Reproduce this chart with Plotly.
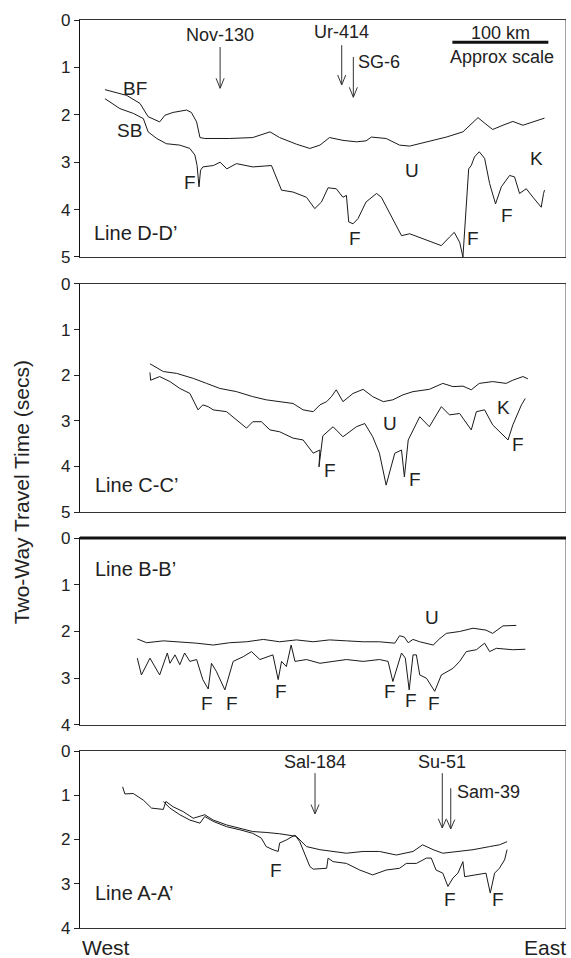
import plotly.graph_objects as go

# ---------------- data (x = distance along line, km; y = two-way time, s) ----------------
d_bf_x = [26, 34.7, 48.6, 62.5, 71, 83, 88.5, 97, 111, 116, 121.5, 125, 130, 156, 180, 198, 208, 225.5,
          239.5, 250, 260, 274, 288, 298, 303.6, 319, 333, 343.5, 361, 381.7, 399, 409.5, 414.7, 420,
          430, 440.7, 451, 461.5, 472, 484]
d_bf_y = [1.47, 1.52, 1.59, 1.76, 2.04, 2.15, 2.01, 1.95, 1.90, 1.95, 2.15, 2.48, 2.50, 2.50, 2.48, 2.36,
          2.48, 2.62, 2.71, 2.64, 2.48, 2.54, 2.57, 2.55, 2.47, 2.50, 2.64, 2.66, 2.57, 2.47, 2.36, 2.15,
          2.06, 2.15, 2.31, 2.22, 2.14, 2.22, 2.15, 2.07]
d_sb_x = [26, 41.6, 55.5, 66, 71, 80, 90, 104, 114.5, 119.7, 122, 124, 125.6, 128, 139, 146, 153, 163,
          180, 199.5, 210, 222, 236, 244.6, 251.6, 258.5, 267, 274, 277.6, 280, 284.5, 289.7, 298, 309,
          314, 324.5, 335, 343.5, 361, 376.5, 385, 390, 395.6, 399, 405, 407.7, 411, 416, 421.6, 426.8,
          433, 439, 447.6, 452.8, 458, 465, 472, 480.6, 483, 484]
d_sb_y = [1.66, 1.87, 1.97, 2.08, 2.36, 2.50, 2.61, 2.64, 2.71, 2.85, 3.07, 3.52, 3.17, 3.10, 3.07, 3.00,
          3.14, 3.03, 3.10, 3.07, 3.59, 3.63, 3.74, 3.98, 3.84, 3.54, 3.56, 3.74, 3.70, 4.26, 4.30, 4.19,
          3.84, 3.66, 3.74, 4.16, 4.55, 4.51, 4.65, 4.76, 4.58, 4.48, 4.69, 5.00, 3.14, 3.07, 2.89, 2.78,
          2.92, 3.45, 3.88, 3.52, 3.28, 3.31, 3.66, 3.56, 3.74, 3.95, 3.66, 3.59]

c_top_x = [72.9, 86.8, 100.6, 118, 131.9, 145.7, 163, 180, 194, 208, 222, 232.5, 243, 250, 257, 262, 267,
           274, 284.5, 295, 305, 316, 326, 336.6, 347, 364, 378, 388.6, 399, 407.7, 416, 430, 444, 451,
           461.5, 466.7]
c_top_y = [1.75, 1.92, 1.96, 2.07, 2.18, 2.29, 2.36, 2.47, 2.54, 2.58, 2.62, 2.76, 2.80, 2.65, 2.58, 2.47,
           2.32, 2.58, 2.40, 2.31, 2.47, 2.58, 2.54, 2.43, 2.36, 2.31, 2.18, 2.25, 2.24, 2.32, 2.18, 2.14,
           2.18, 2.11, 2.03, 2.08]
c_bot_x = [72.9, 73.6, 83, 93.7, 104, 114.5, 123, 128, 133.6, 138.8, 152.7, 163, 173.5, 180, 189, 198, 208,
           222, 232.5, 243, 250, 249, 253, 263.7, 274, 288, 296.7, 305, 312, 319, 328, 335, 338, 342, 354,
           364, 376.5, 385, 395.6, 407.7, 413, 421.6, 430, 446, 451, 460, 464]
c_bot_y = [1.94, 2.11, 2.03, 2.14, 2.29, 2.40, 2.76, 2.65, 2.69, 2.76, 2.80, 2.98, 3.16, 3.02, 3.02, 3.20,
           3.24, 3.38, 3.42, 3.71, 3.64, 4.01, 3.33, 3.13, 3.35, 3.13, 3.06, 3.35, 3.71, 4.41, 3.71, 3.64,
           4.23, 3.42, 2.91, 3.13, 2.69, 2.87, 2.84, 3.20, 2.80, 2.76, 3.09, 3.42, 3.09, 2.65, 2.51]

b_top_x = [59.7, 69.4, 86.8, 104, 121.5, 138.8, 156, 173.5, 191, 208, 225.5, 243, 260, 277.6, 295, 312,
           328, 333, 338, 342, 347, 354, 368, 375, 381.7, 395.6, 409.5, 423, 430, 440.7, 454.6]
b_top_y = [2.16, 2.24, 2.20, 2.22, 2.25, 2.29, 2.24, 2.22, 2.17, 2.22, 2.18, 2.22, 2.18, 2.20, 2.22, 2.22,
           2.25, 2.09, 2.12, 2.24, 2.17, 2.22, 2.29, 2.15, 2.04, 2.00, 1.93, 1.97, 2.04, 1.88, 1.87]
b_bot_x = [59.7, 64, 72.9, 83, 91, 93.7, 99, 104, 109, 114.5, 121.5, 128, 133.6, 137, 142, 151, 159.6, 170,
           178.7, 187.4, 201, 206.5, 210, 215, 220, 224, 236, 250, 263.7, 277.6, 295, 312, 321, 326, 335,
           339, 343, 347, 350.5, 354, 361, 369.6, 376.5, 388.6, 395.6, 402.5, 413, 421.6, 426.8, 433.8,
           451, 464]
b_bot_y = [2.57, 2.93, 2.57, 2.93, 2.46, 2.68, 2.50, 2.71, 2.46, 2.64, 2.60, 3.03, 3.23, 2.68, 2.85, 3.25,
           2.64, 2.54, 2.43, 2.60, 2.50, 3.03, 2.64, 2.75, 2.29, 2.64, 2.60, 2.68, 2.64, 2.60, 2.64, 2.60,
           2.64, 3.07, 2.46, 2.57, 3.25, 2.50, 2.50, 2.93, 3.00, 3.28, 2.93, 2.79, 2.64, 2.43, 2.39, 2.25,
           2.43, 2.36, 2.39, 2.38]

a_top_x = [44.4, 46.8, 55.5, 66, 74.6, 86.8, 89.5, 97, 107.6, 118, 130, 138.8, 152.7, 166.6, 180, 194, 208,
           225.5, 236, 250, 263.7, 277.6, 295, 312, 329.6, 347, 357, 368, 378, 392, 409.5, 426.8, 437, 445]
a_top_y = [0.81, 0.97, 0.96, 1.11, 1.29, 1.32, 1.14, 1.26, 1.37, 1.52, 1.44, 1.56, 1.67, 1.75, 1.82, 1.84,
           1.87, 1.93, 2.16, 2.23, 2.27, 2.31, 2.27, 2.27, 2.35, 2.27, 2.12, 2.23, 2.31, 2.27, 2.23, 2.16,
           2.12, 2.05]
a_bot_x = [86.8, 93.7, 104, 114.5, 125, 130, 138.8, 152.7, 166.6, 180, 189, 194, 201, 206.5, 208, 215, 224,
           229, 239.5, 243, 257, 258.5, 263.7, 277.6, 291.5, 305, 319, 333, 340, 350.5, 361, 366, 371, 378,
           383.4, 388.6, 393.8, 399, 400.8, 413, 423, 427.5, 432, 437, 442.4, 445]
a_bot_y = [1.14, 1.29, 1.44, 1.56, 1.63, 1.48, 1.59, 1.71, 1.78, 1.86, 1.97, 2.16, 2.23, 2.27, 2.08, 2.01,
           1.90, 2.05, 2.61, 2.67, 2.65, 2.42, 2.50, 2.54, 2.69, 2.80, 2.69, 2.65, 2.54, 2.54, 2.42, 2.42,
           2.69, 2.76, 3.06, 2.87, 2.76, 2.50, 2.84, 2.80, 2.76, 3.21, 2.76, 2.65, 2.46, 2.23]

# panel setup
panel_names = ["Line D-D\u2019", "Line C-C\u2019", "Line B-B\u2019", "Line A-A\u2019"]
panel_ymax = [5, 5, 4, 4]
panel_domains = [(0.739, 1.0), (0.4581, 0.7093), (0.2236, 0.4295), (0.0, 0.1949)]
panel_name_pos = [(12.5, 4.50), (13.5, 4.41), (13.5, 0.66), (13.5, 3.21)]
panel_curves = [[(d_bf_x, d_bf_y), (d_sb_x, d_sb_y)],
                [(c_top_x, c_top_y), (c_bot_x, c_bot_y)],
                [(b_top_x, b_top_y), (b_bot_x, b_bot_y)],
                [(a_top_x, a_top_y), (a_bot_x, a_bot_y)]]

# feature labels: (panel, x, y, text)
feature_labels = [
    (0, 57.3, 1.44, "BF"), (0, 52, 2.33, "SB"), (0, 114.6, 3.42, "F"), (0, 346, 3.17, "U"),
    (0, 476, 2.92, "K"), (0, 286.5, 4.61, "F"), (0, 409.5, 4.61, "F"), (0, 445, 4.12, "F"),
    (1, 323, 3.05, "U"), (1, 440.8, 2.70, "K"), (1, 260.5, 4.08, "F"), (1, 349, 4.28, "F"),
    (1, 456.4, 3.53, "F"),
    (2, 366.8, 1.69, "U"), (2, 132.3, 3.53, "F"), (2, 158.4, 3.53, "F"), (2, 209.4, 3.29, "F"),
    (2, 323, 3.29, "F"), (2, 345, 3.48, "F"), (2, 368.9, 3.53, "F"),
    (3, 204, 2.69, "F"), (3, 385.5, 3.36, "F"), (3, 435.5, 3.36, "F"),
]

# wells: (panel, name, x, arrow top, arrow tip, label x, label y, anchor)
wells = [
    (0, "Nov-130", 146.0, 0.57, 1.44, 146.0, 0.32, "center"),
    (0, "Ur-414", 272.7, 0.53, 1.37, 272.7, 0.25, "center"),
    (0, "SG-6", 284.8, 0.78, 1.63, 287.5, 0.89, "left"),
    (3, "Sal-184", 244.9, 0.50, 1.42, 244.9, 0.25, "center"),
    (3, "Su-51", 377.5, 0.50, 1.74, 377.5, 0.25, "center"),
    (3, "Sam-39", 386.3, 0.84, 1.76, 390.5, 0.92, "left"),
]

scale_x0, scale_x1, scale_y = 388, 488, 0.47
X_MAX = 506.4
FONT = "Arial, Liberation Sans, Helvetica, sans-serif"
LINE_COL = "#1a1a1a"

fig = go.Figure()
layout = dict(
    width=571, height=958, autosize=False,
    margin=dict(l=80, r=5, t=20, b=30),
    paper_bgcolor="white", plot_bgcolor="white",
    showlegend=False,
    font=dict(family=FONT, size=17, color="#222"),
)
shapes = []
annotations = []

for i in range(4):
    suffix = "" if i == 0 else str(i + 1)
    xa, ya = "x" + suffix, "y" + suffix
    for cx, cy in panel_curves[i]:
        fig.add_trace(go.Scatter(x=cx, y=cy, mode="lines", xaxis=xa, yaxis=ya,
                                 line=dict(color=LINE_COL, width=1), hoverinfo="skip"))
    layout["xaxis" + suffix] = dict(domain=[0, 1], range=[0, X_MAX], anchor=ya,
                                    showgrid=False, zeroline=False, showticklabels=False,
                                    ticks="", showline=True, linecolor="#333", linewidth=1,
                                    mirror=True)
    layout["yaxis" + suffix] = dict(domain=list(panel_domains[i]), range=[panel_ymax[i], 0],
                                    anchor=xa, tickmode="array",
                                    tickvals=list(range(panel_ymax[i] + 1)),
                                    ticks="outside", ticklen=5, tickwidth=1, tickcolor="#222",
                                    showgrid=False, zeroline=False, showline=True,
                                    linecolor="#111", linewidth=1.3, mirror=False,
                                    tickfont=dict(size=17, color="#222"))
    # right border
    shapes.append(dict(type="line", xref=xa, yref=ya + " domain", x0=X_MAX, x1=X_MAX, y0=0, y1=1,
                       line=dict(color="#444", width=1)))
    nx, ny = panel_name_pos[i]
    annotations.append(dict(x=nx, y=ny, xref=xa, yref=ya, text=panel_names[i], showarrow=False,
                            xanchor="left", yanchor="middle", font=dict(size=20, color="#222")))

# thick top border of panel B-B'
shapes.append(dict(type="line", xref="x3 domain", yref="y3 domain", x0=0, x1=1, y0=1, y1=1,
                   line=dict(color="#111", width=3)))

for p, fx, fy, t in feature_labels:
    suffix = "" if p == 0 else str(p + 1)
    annotations.append(dict(x=fx, y=fy, xref="x" + suffix, yref="y" + suffix, text=t,
                            showarrow=False, xanchor="center", yanchor="middle",
                            font=dict(size=19, color="#222")))

# wells with open arrowheads
head_dx, head_dy = 4.2, 0.21
for p, name, wx, y0, y1, lx, ly, anchor in wells:
    suffix = "" if p == 0 else str(p + 1)
    xa, ya = "x" + suffix, "y" + suffix
    lc = dict(color="#333", width=1)
    shapes.append(dict(type="line", xref=xa, yref=ya, x0=wx, x1=wx, y0=y0, y1=y1, line=lc))
    shapes.append(dict(type="line", xref=xa, yref=ya, x0=wx - head_dx, x1=wx, y0=y1 - head_dy, y1=y1, line=lc))
    shapes.append(dict(type="line", xref=xa, yref=ya, x0=wx + head_dx, x1=wx, y0=y1 - head_dy, y1=y1, line=lc))
    annotations.append(dict(x=lx, y=ly, xref=xa, yref=ya, text=name, showarrow=False,
                            xanchor=anchor, yanchor="middle", font=dict(size=18, color="#222")))

# scale bar
shapes.append(dict(type="line", xref="x", yref="y", x0=scale_x0, x1=scale_x1, y0=scale_y, y1=scale_y,
                   line=dict(color="#111", width=3)))
annotations.append(dict(x=(scale_x0 + scale_x1) / 2, y=0.27, xref="x", yref="y", text="100 km",
                        showarrow=False, font=dict(size=18, color="#222")))
annotations.append(dict(x=(scale_x0 + scale_x1) / 2 + 1.5, y=0.78, xref="x", yref="y",
                        text="Approx scale", showarrow=False, font=dict(size=18, color="#222")))

# axis titles
annotations.append(dict(x=-0.1214, y=0.48, xref="paper", yref="paper", text="Two-Way Travel Time (secs)",
                        textangle=-90, showarrow=False, xanchor="center", yanchor="middle",
                        font=dict(size=21, color="#222")))
annotations.append(dict(x=0, y=-0.022, xref="paper", yref="paper", text="West", showarrow=False,
                        xanchor="left", yanchor="middle", font=dict(size=21, color="#222")))
annotations.append(dict(x=1.004, y=-0.022, xref="paper", yref="paper", text="East", showarrow=False,
                        xanchor="right", yanchor="middle", font=dict(size=21, color="#222")))

layout["shapes"] = shapes
layout["annotations"] = annotations
fig.update_layout(**layout)

fig.write_html("out.html", config={"displayModeBar": False},
               post_script=["document.body.style.margin='0';"])
